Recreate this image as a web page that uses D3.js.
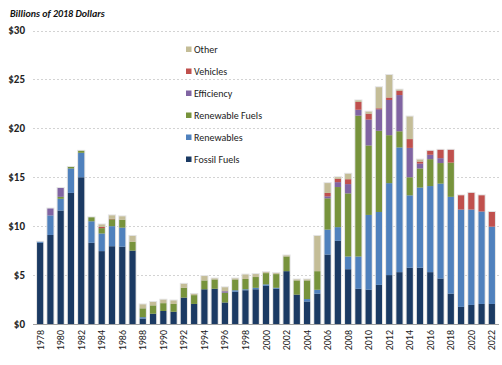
<!DOCTYPE html>
<html>
<head>
<meta charset="utf-8">
<script src="https://cdn.jsdelivr.net/npm/d3@7"></script>
<style>
  body { margin: 0; background: #fff; }
  svg { display: block; }
</style>
</head>
<body>
<script>
// years on the x axis
var years = [1978,1979,1980,1981,1982,1983,1984,1985,1986,1987,1988,1989,1990,
  1991,1992,1993,1994,1995,1996,1997,1998,1999,2000,2001,2002,2003,2004,2005,
  2006,2007,2008,2009,2010,2011,2012,2013,2014,2015,2016,2017,2018,2019,2020,2021,2022];

// billions of 2018 dollars
var fossilFuels = [8.3,9.1,11.6,13.4,15.0,8.3,7.45,7.95,7.9,7.5,0.55,1.05,1.33,
  1.25,2.7,2.05,3.55,3.6,2.2,3.3,3.45,3.55,3.9,3.6,5.4,3.0,2.3,3.1,
  7.1,8.5,5.6,3.6,3.5,4.0,5.0,5.3,5.75,5.75,5.3,4.65,3.1,1.75,1.95,2.05,2.05];
var renewables = [0.1,2.0,1.2,2.5,2.5,2.2,1.8,2.05,1.95,0,0.15,0,0,
  0,0,0,0,0,0,0.15,0.1,0.15,0.15,0.1,0,0,0.25,0.4,
  2.55,1.4,1.3,3.3,7.65,7.45,9.4,12.75,7.4,8.2,8.8,9.7,9.9,9.95,9.75,9.45,7.9];
var renewableFuels = [0,0,0.2,0.15,0.2,0.4,0.55,0.7,0.8,0.9,0.9,0.85,0.8,
  0.8,1.0,0.9,0.9,0.95,1.0,1.1,1.05,1.1,1.15,1.4,1.5,1.45,1.9,1.9,
  3.2,4.1,6.45,14.4,7.1,8.3,4.9,1.65,1.85,1.95,2.75,2.1,3.5,0,0,0,0];
var efficiency = [0,0.7,0.9,0,0,0,0,0,0,0,0,0,0,
  0,0,0,0,0,0.15,0,0,0,0,0,0,0,0,0,
  0.2,0.5,0.95,0.6,2.65,2.2,3.6,3.7,3.0,0.5,0.45,0.5,0,0,0,0,0];
var vehicles = [0,0,0,0,0,0,0.12,0.05,0,0,0,0,0,
  0,0,0,0,0,0,0,0,0,0,0,0,0,0,0,
  0.35,0.35,0.5,0.8,0.6,0.1,0.25,0.45,0.9,0.2,0.4,0.85,1.3,1.45,1.7,1.65,1.5];
var other = [0,0,0,0,0,0,0.25,0.35,0.35,0.6,0.4,0.35,0.35,
  0.35,0.4,0.12,0.45,0.1,0.4,0.1,0.45,0.3,0.1,0.1,0.1,0.1,0.1,3.6,
  1.0,0.15,0.55,0.15,0.2,2.15,2.3,0.1,2.3,0.2,0,0,0,0,0,0,0];

var seriesNames = ["Fossil Fuels","Renewables","Renewable Fuels","Efficiency","Vehicles","Other"];
var seriesValues = [fossilFuels, renewables, renewableFuels, efficiency, vehicles, other];
var seriesColors = ["#1b3a63","#4f81bd","#77933c","#8064a2","#c0504d","#c4bd97"];

var yTicks = [0,5,10,15,20,25,30];

var width = 502, height = 365;
var font = "Carlito, Lato, 'Liberation Sans', sans-serif";

var svg = d3.select("body").append("svg")
    .attr("width", width)
    .attr("height", height)
    .attr("font-family", font);

var x = d3.scaleBand()
    .domain(years)
    .range([35, 497])
    .paddingInner(0.4)
    .paddingOuter(0.2);

var y = d3.scaleLinear()
    .domain([0, 30])
    .range([324, 30.5]);

// rows for the stack
var table = years.map(function(yr, i){
    var row = {year: yr};
    seriesNames.forEach(function(name, j){ row[name] = seriesValues[j][i]; });
    return row;
});
var stacked = d3.stack().keys(seriesNames)(table);

// gridlines
svg.append("g")
    .selectAll("line")
    .data(yTicks.slice(1))
    .enter().append("line")
        .attr("x1", 33).attr("x2", 499)
        .attr("y1", function(d){ return Math.round(y(d)) + 0.5; })
        .attr("y2", function(d){ return Math.round(y(d)) + 0.5; })
        .attr("stroke", "#c8c8c8")
        .attr("stroke-width", 0.8)
        .attr("stroke-dasharray", "2,2");

// y labels
svg.append("g")
    .selectAll("text")
    .data(yTicks)
    .enter().append("text")
        .attr("x", 25)
        .attr("y", function(d){ return y(d); })
        .attr("dy", "0.35em")
        .attr("text-anchor", "end")
        .attr("font-size", 11)
        .attr("font-weight", "bold")
        .attr("fill", "#222")
        .text(function(d){ return "$" + d; });

// soft halo behind each bar
svg.append("g")
    .selectAll("rect")
    .data(table)
    .enter().append("rect")
        .attr("x", function(d){ return x(d.year) - 1; })
        .attr("width", x.bandwidth() + 2)
        .attr("y", function(d){
            var tot = d3.sum(seriesNames, function(n){ return d[n]; });
            return y(tot) - 1;
        })
        .attr("height", function(d){
            var tot = d3.sum(seriesNames, function(n){ return d[n]; });
            return y(0) - y(tot) + 1;
        })
        .attr("fill", "#e4e4e4");

// bars
svg.append("g")
    .selectAll("g")
    .data(stacked)
    .enter().append("g")
        .attr("fill", function(d, i){ return seriesColors[i]; })
    .selectAll("rect")
    .data(function(d){ return d; })
    .enter().append("rect")
        .attr("x", function(d){ return x(d.data.year); })
        .attr("width", x.bandwidth())
        .attr("y", function(d){ return y(d[1]); })
        .attr("height", function(d){ return Math.max(0, y(d[0]) - y(d[1])); });

// x axis line
svg.append("line")
    .attr("x1", 33).attr("x2", 499)
    .attr("y1", 324.5).attr("y2", 324.5)
    .attr("stroke", "#a0a0a0")
    .attr("stroke-width", 1.2);

// x labels, every other year
svg.append("g")
    .selectAll("text")
    .data(years.filter(function(yr){ return yr % 2 == 0; }))
    .enter().append("text")
        .attr("transform", function(d){
            return "translate(" + (x(d) + x.bandwidth() / 2 + 3.5) + ",330) rotate(-90)";
        })
        .attr("text-anchor", "end")
        .attr("font-size", 10)
        .attr("fill", "#222")
        .text(function(d){ return d; });

// title
svg.append("text")
    .attr("x", 10)
    .attr("y", 17)
    .attr("font-size", 10)
    .attr("font-weight", "bold")
    .attr("font-style", "italic")
    .attr("fill", "#111")
    .text("Billions of 2018 Dollars");

// legend, top item is Other
var legendItems = seriesNames.slice().reverse();
var legendColors = seriesColors.slice().reverse();
var legend = svg.append("g")
    .selectAll("g")
    .data(legendItems)
    .enter().append("g")
        .attr("transform", function(d, i){ return "translate(186," + (49.5 + i * 22) + ")"; });

legend.append("rect")
    .attr("x", 0).attr("y", -3)
    .attr("width", 5.5).attr("height", 5.5)
    .attr("fill", function(d, i){ return legendColors[i]; });

legend.append("text")
    .attr("x", 8)
    .attr("y", 0)
    .attr("dy", "0.35em")
    .attr("font-size", 10)
    .attr("fill", "#222")
    .text(function(d){ return d; });
</script>
</body>
</html>
